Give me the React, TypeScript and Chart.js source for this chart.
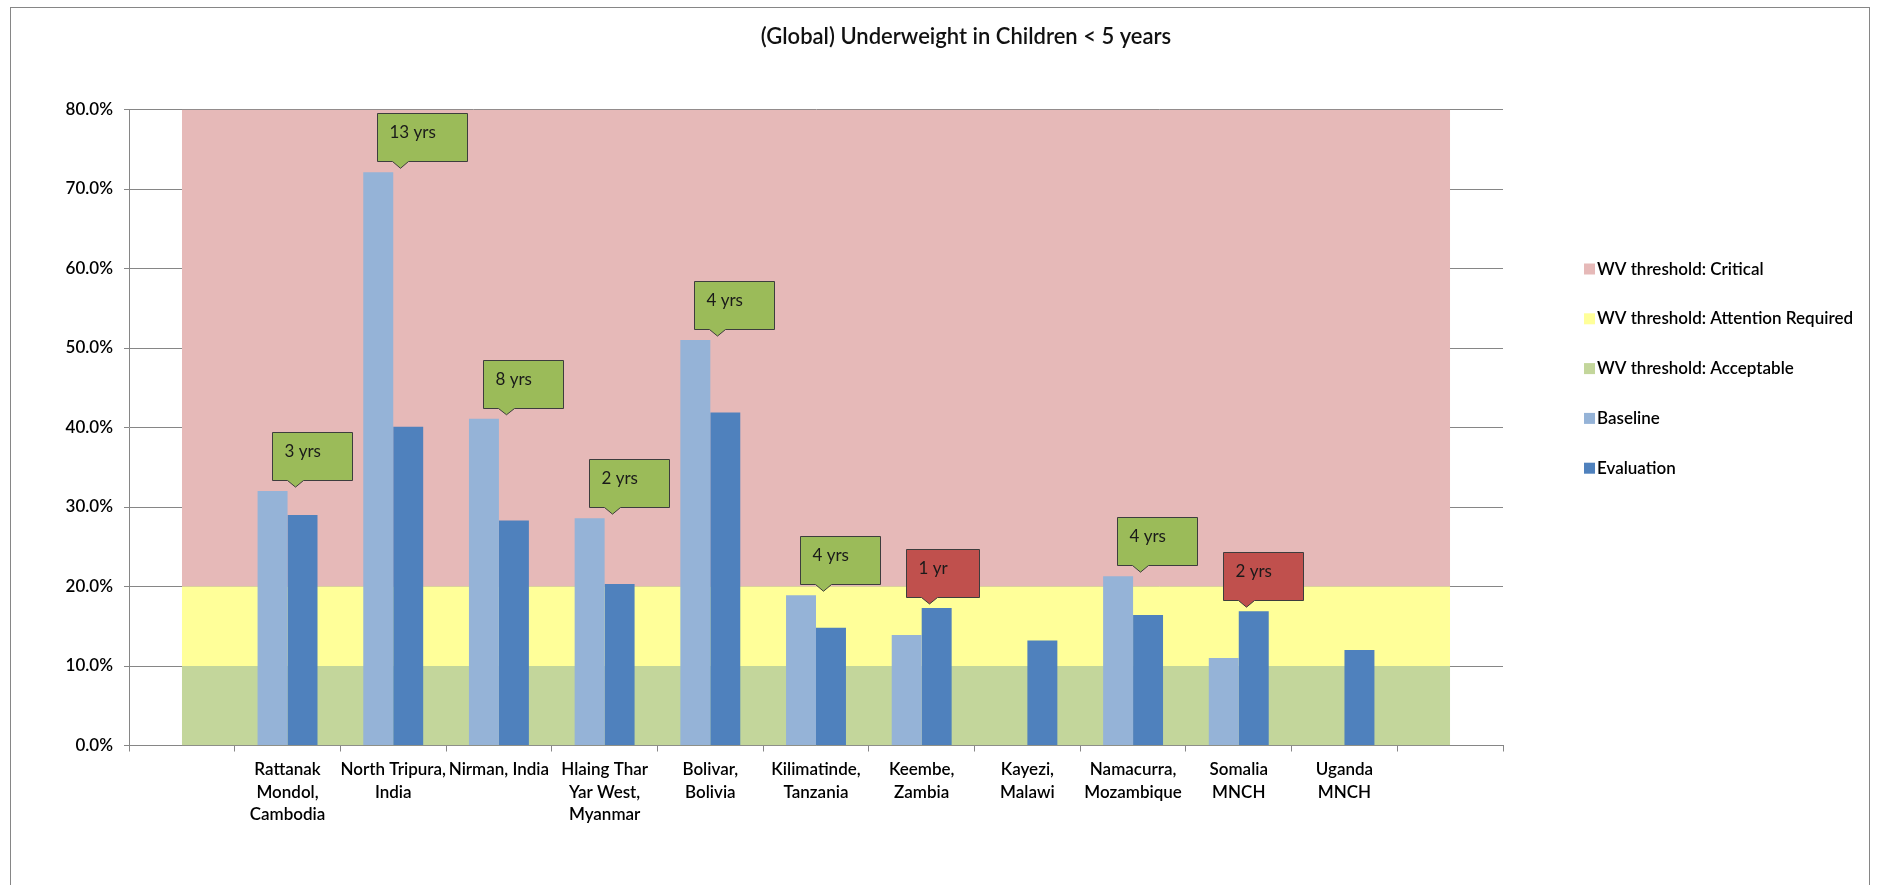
import React, { useEffect, useRef } from "react";
import { Chart, registerables } from "chart.js";

Chart.register(...registerables);

// Sites along the category axis (first and last slots are left empty)
const categories: (string | string[])[] = [
  "",
  ["Rattanak", "Mondol,", "Cambodia"],
  ["North Tripura,", "India"],
  "Nirman, India",
  ["Hlaing Thar", "Yar West,", "Myanmar"],
  ["Bolivar,", "Bolivia"],
  ["Kilimatinde,", "Tanzania"],
  ["Keembe,", "Zambia"],
  ["Kayezi,", "Malawi"],
  ["Namacurra,", "Mozambique"],
  ["Somalia", "MNCH"],
  ["Uganda", "MNCH"],
  "",
];

// Prevalence of underweight (%)
const baseline = [null, 32.0, 72.1, 41.1, 28.6, 51.0, 18.9, 13.9, null, 21.3, 11.0, null, null];
const evaluation = [null, 29.0, 40.1, 28.3, 20.3, 41.9, 14.8, 17.3, 13.2, 16.4, 16.9, 12.0, null];

// Programme duration between baseline and evaluation
const programYears = ["", "3 yrs", "13 yrs", "8 yrs", "2 yrs", "4 yrs", "4 yrs", "1 yr", "", "4 yrs", "2 yrs", "", ""];

// WV threshold band limits (upper edge of each band, %)
const acceptableLimit = [10, 10, 10, 10, 10, 10, 10, 10, 10, 10, 10, 10, 10];
const attentionLimit = [20, 20, 20, 20, 20, 20, 20, 20, 20, 20, 20, 20, 20];
const criticalLimit = [80, 80, 80, 80, 80, 80, 80, 80, 80, 80, 80, 80, 80];

const yMin = 0;
const yMax = 80;
const yStep = 10;

const COLORS = {
  critical: "#E6B9B8",
  attention: "#FFFF99",
  acceptable: "#C3D69B",
  baseline: "#95B3D7",
  evaluation: "#4F81BD",
  improved: "#9BBB59",
  worsened: "#C0504D",
  axis: "#868686",
};

const FONT = "Lato, 'Open Sans', 'DejaVu Sans', sans-serif";
const WEIGHT = "600";

const TITLE = "(Global) Underweight in Children < 5 years";

// Outer frame, title and legend drawn around the plot
const framePlugin = {
  id: "frame",
  beforeDraw(chart: any) {
    const { ctx, width, height } = chart;
    ctx.save();
    ctx.fillStyle = "#ffffff";
    ctx.fillRect(0, 0, width, height);
    ctx.strokeStyle = COLORS.axis;
    ctx.lineWidth = 1;
    ctx.strokeRect(10.5, 7.5, 1859, height + 10);
    ctx.restore();
  },
  afterDraw(chart: any) {
    const { ctx } = chart;
    ctx.save();
    ctx.fillStyle = "#111";
    ctx.font = `${WEIGHT} 22px ${FONT}`;
    ctx.textAlign = "center";
    ctx.textBaseline = "alphabetic";
    ctx.fillText(TITLE, 966, 44);

    // legend: bands first (top to bottom), then the bar series
    const order = [4, 3, 2, 0, 1];
    ctx.font = `${WEIGHT} 17px ${FONT}`;
    ctx.textAlign = "left";
    order.forEach((dsIndex, row) => {
      const ds = chart.data.datasets[dsIndex];
      const base = 274.5 + row * 49.8;
      ctx.fillStyle = ds.backgroundColor;
      ctx.fillRect(1584, base - 11, 11, 11);
      ctx.fillStyle = "#000";
      ctx.fillText(ds.label, 1597, base);
    });
    ctx.restore();
  },
};

// Duration callouts above each site's bars
const calloutPlugin = {
  id: "durationCallouts",
  afterDatasetsDraw(chart: any) {
    const { ctx } = chart;
    const xs = chart.scales.x;
    const ys = chart.scales.y;
    ctx.save();
    ctx.font = `17px ${FONT}`;
    programYears.forEach((label, i) => {
      if (!label) return;
      const b = baseline[i];
      const e = evaluation[i];
      const top = Math.max(b ?? 0, e ?? 0);
      const tipX = Math.round(xs.getPixelForValue(i)) + 7.5;
      const tipY = ys.getPixelForValue(top) - 4;
      const bottom = Math.round(tipY - 7) + 0.5;
      const boxTop = bottom - 48;
      const left = tipX - 23;
      const w = Math.round(ctx.measureText(label).width + 44);
      const right = left + w;
      const worsened = b != null && e != null && e > b;
      ctx.beginPath();
      ctx.moveTo(left, boxTop);
      ctx.lineTo(right, boxTop);
      ctx.lineTo(right, bottom);
      ctx.lineTo(tipX + 8, bottom);
      ctx.lineTo(tipX, tipY);
      ctx.lineTo(tipX - 8, bottom);
      ctx.lineTo(left, bottom);
      ctx.closePath();
      ctx.fillStyle = worsened ? COLORS.worsened : COLORS.improved;
      ctx.fill();
      ctx.strokeStyle = "#3d3d3d";
      ctx.lineWidth = 1;
      ctx.stroke();
      ctx.fillStyle = "#1a1a1a";
      ctx.textAlign = "left";
      ctx.textBaseline = "alphabetic";
      ctx.fillText(label, left + 12, boxTop + 24);
    });
    ctx.restore();
  },
};

export default function App() {
  const canvasRef = useRef<HTMLCanvasElement | null>(null);

  useEffect(() => {
    if (!canvasRef.current) return;
    Chart.defaults.font.family = FONT;

    const chart = new Chart(canvasRef.current, {
      type: "bar",
      data: {
        labels: categories,
        datasets: [
          {
            type: "bar",
            label: "Baseline",
            data: baseline,
            backgroundColor: COLORS.baseline,
            borderWidth: 0,
            categoryPercentage: 0.567,
            barPercentage: 1,
          },
          {
            type: "bar",
            label: "Evaluation",
            data: evaluation,
            backgroundColor: COLORS.evaluation,
            borderWidth: 0,
            categoryPercentage: 0.567,
            barPercentage: 1,
          },
          {
            type: "line",
            label: "WV threshold: Acceptable",
            data: acceptableLimit,
            backgroundColor: COLORS.acceptable,
            borderWidth: 0,
            pointRadius: 0,
            fill: "origin",
          },
          {
            type: "line",
            label: "WV threshold: Attention Required",
            data: attentionLimit,
            backgroundColor: COLORS.attention,
            borderWidth: 0,
            pointRadius: 0,
            fill: "-1",
          },
          {
            type: "line",
            label: "WV threshold: Critical",
            data: criticalLimit,
            backgroundColor: COLORS.critical,
            borderWidth: 0,
            pointRadius: 0,
            fill: "-1",
          },
        ] as any,
      },
      options: {
        animation: false,
        responsive: false,
        layout: { padding: { top: 109.5, right: 395, bottom: 0, left: 0 } },
        plugins: {
          legend: { display: false },
          title: { display: false },
          tooltip: { enabled: false },
        },
        scales: {
          x: {
            offset: true,
            grid: {
              offset: true,
              drawOnChartArea: false,
              drawTicks: true,
              tickLength: 6,
              color: COLORS.axis,
            },
            border: { display: true, color: COLORS.axis },
            ticks: {
              color: "#000",
              font: { size: 17, family: FONT, weight: WEIGHT, lineHeight: "22.4px" },
              padding: 7,
              maxRotation: 0,
              autoSkip: false,
            },
            afterFit: (scale: any) => {
              scale.height = 139.5;
            },
          },
          y: {
            min: yMin,
            max: yMax,
            grid: {
              color: COLORS.axis,
              drawTicks: true,
              tickLength: 5,
            },
            border: { display: true, color: COLORS.axis },
            ticks: {
              stepSize: yStep,
              color: "#000",
              font: { size: 17, family: FONT, weight: WEIGHT },
              padding: 11,
              callback: (v: any) => `${Number(v).toFixed(1)}%`,
            },
            afterFit: (scale: any) => {
              scale.width = 129;
            },
          },
        },
      },
      plugins: [framePlugin, calloutPlugin],
    });

    return () => chart.destroy();
  }, []);

  return (
    <div style={{ position: "fixed", left: 0, top: 0, width: 1898, height: 885, background: "#fff" }}>
      <canvas ref={canvasRef} width={1898} height={885} style={{ display: "block" }} />
    </div>
  );
}
